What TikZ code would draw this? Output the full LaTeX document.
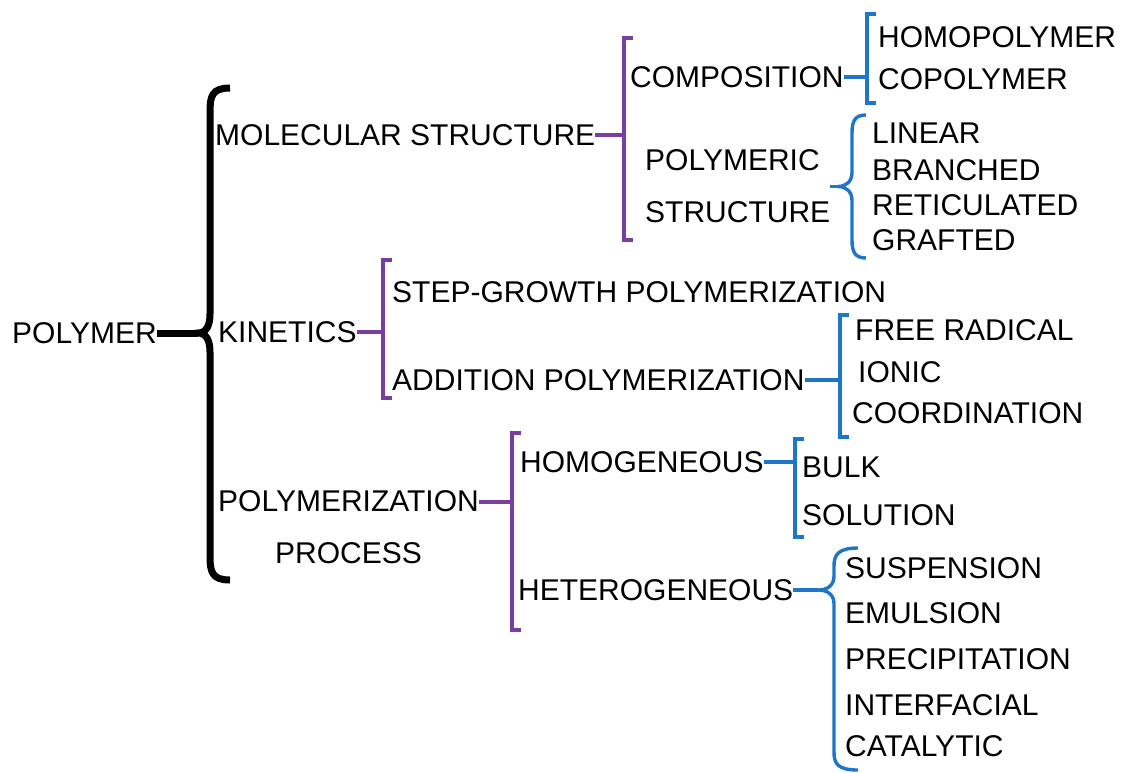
\documentclass[tikz,border=0pt]{standalone}
\usepackage{fontspec}
\setmainfont{Liberation Sans}
\definecolor{brpurple}{RGB}{124,62,158}
\definecolor{brblue}{RGB}{30,118,200}

\begin{document}
\begin{tikzpicture}[x=1pt, y=-1pt,
  lbl/.style={anchor=west, inner sep=0pt, font=\fontsize{30}{52}\selectfont},
  rootbr/.style={line width=7pt, black},
  firstbr/.style={line width=3.4pt, brpurple},
  secondbr/.style={line width=3.4pt, brblue},
]
\useasboundingbox (0,0) rectangle (1126,772);
% root and first level
\node[lbl] (polymer) at (12,333) {POLYMER};
\node[lbl] (molec) at (215,135) {MOLECULAR STRUCTURE};
\node[lbl] (kinet) at (218,332) {KINETICS};
\node[lbl, align=center] (process) at (218,527.5) {POLYMERIZATION\\PROCESS};
% second level
\node[lbl] (compo) at (630,77) {COMPOSITION};
\node[lbl, align=left] (polystr) at (645,186.5) {POLYMERIC\\STRUCTURE};
\node[lbl] (stepg) at (392,292) {STEP-GROWTH POLYMERIZATION};
\node[lbl] (addit) at (392,380) {ADDITION POLYMERIZATION};
\node[lbl] (homog) at (520,462) {HOMOGENEOUS};
\node[lbl] (heterog) at (518,590) {HETEROGENEOUS};
% leaves
\node[lbl] (homopol) at (878,37) {HOMOPOLYMER};
\node[lbl] (copol) at (878,79) {COPOLYMER};
\node[lbl] (linear) at (872,133) {LINEAR};
\node[lbl] (branched) at (872,170) {BRANCHED};
\node[lbl] (retic) at (872,205) {RETICULATED};
\node[lbl] (grafted) at (872,240) {GRAFTED};
\node[lbl] (freerad) at (855,330) {FREE RADICAL};
\node[lbl] (ionic) at (858,372) {IONIC};
\node[lbl] (coord) at (852,413) {COORDINATION};
\node[lbl] (bulk) at (802,467) {BULK};
\node[lbl] (solut) at (802,515) {SOLUTION};
\node[lbl] (suspen) at (845,568) {SUSPENSION};
\node[lbl] (emuls) at (845,613) {EMULSION};
\node[lbl] (precip) at (845,659) {PRECIPITATION};
\node[lbl] (interf) at (845,705) {INTERFACIAL};
\node[lbl] (catal) at (845,746) {CATALYTIC};
% bracket joints
\coordinate (bp) at (198,333);
\coordinate (bm) at (624,135);
\coordinate (bk) at (383,332);
\coordinate (bq) at (512,502);
\coordinate (bc) at (867,77);
\coordinate (bs) at (838,186.5);
\coordinate (ba) at (840,380);
\coordinate (bh) at (795,462);
\coordinate (bt) at (818,590);
% root brace
\draw[rootbr] (230,88) .. controls (212,88) and (210,96) .. (210,112) -- (210,314)
  .. controls (210,326) and (206,333) .. (bp) .. controls (206,333) and (210,340) .. (210,352)
  -- (210,556) .. controls (210,572) and (212,580) .. (230,580);
\draw[rootbr] (polymer.east) -- (bp);
% purple brackets
\draw[firstbr] (633,38) -- (624,38) -- (624,240) -- (633,240);
\draw[firstbr] (molec.east) -- (bm);
\draw[firstbr] (392,260) -- (383,260) -- (383,398) -- (392,398);
\draw[firstbr] (kinet.east) -- (bk);
\draw[firstbr] (521,433) -- (512,433) -- (512,630) -- (521,630);
\draw[firstbr] (process.north east |- bq) -- (bq);
% blue brackets
\draw[secondbr] (876,14) -- (867,14) -- (867,103) -- (876,103);
\draw[secondbr] (compo.east) -- (bc);
\draw[secondbr] (866,115) .. controls (855,115) and (852,121) .. (852,133) -- (852,172.5)
  .. controls (852,181.5) and (846,186.5) .. (bs) .. controls (846,186.5) and (852,191.5) .. (852,200.5)
  -- (852,240) .. controls (852,252) and (855,258) .. (866,258);
\draw[secondbr] (polystr.east) -- (bs);
\draw[secondbr] (849,315) -- (840,315) -- (840,437) -- (849,437);
\draw[secondbr] (addit.east) -- (ba);
\draw[secondbr] (804,439) -- (795,439) -- (795,537) -- (804,537);
\draw[secondbr] (homog.east) -- (bh);
\draw[secondbr] (858,548) .. controls (838,548) and (834,555) .. (834,566) -- (834,576)
  .. controls (834,585) and (828,590) .. (bt) .. controls (828,590) and (834,595) .. (834,604)
  -- (834,752) .. controls (834,764) and (838,770) .. (858,770);
\draw[secondbr] (heterog.east) -- (bt);
\end{tikzpicture}
\end{document}
